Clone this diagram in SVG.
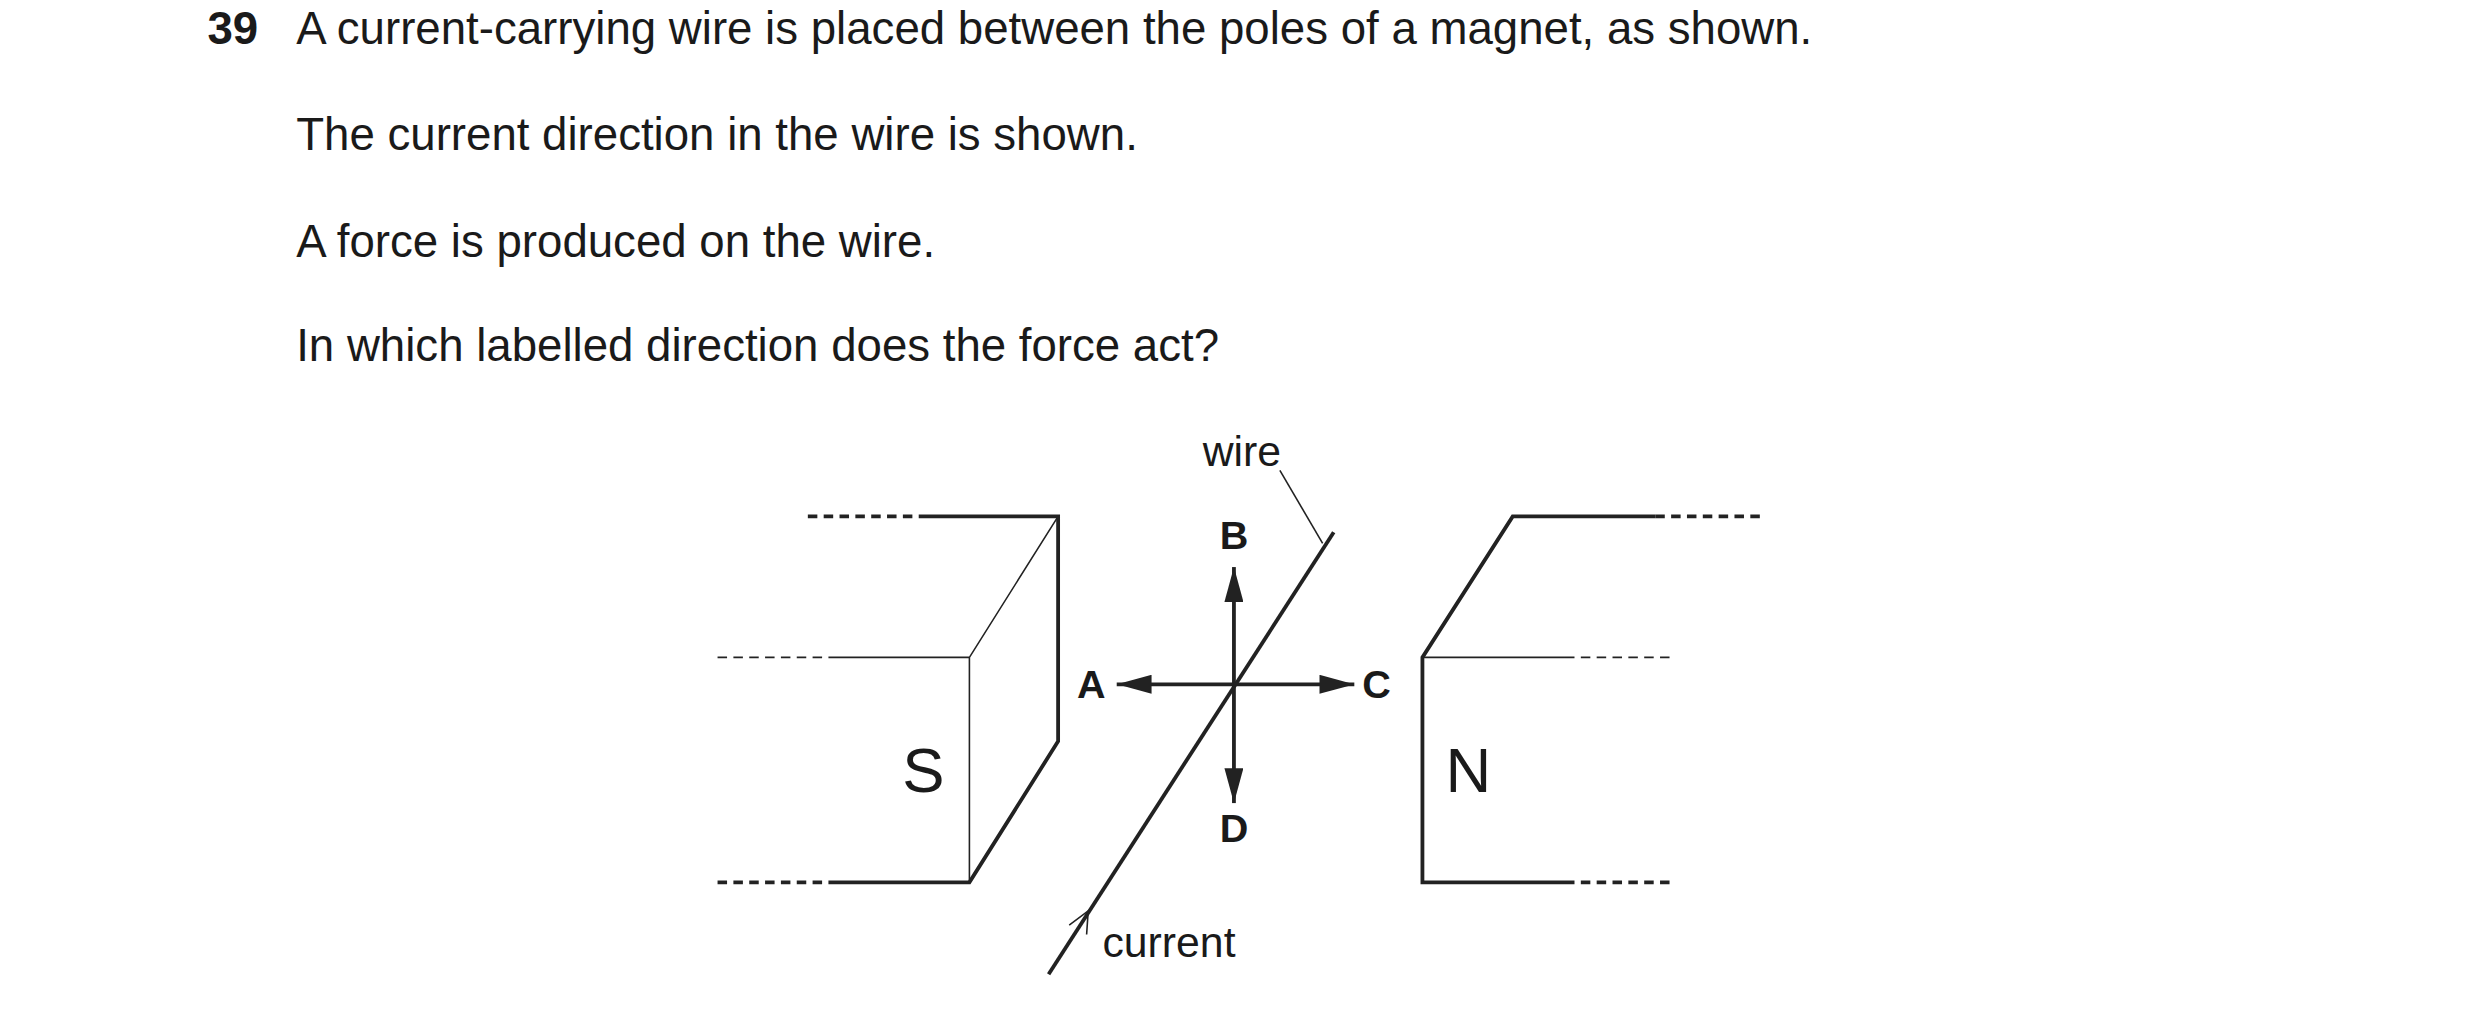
<svg xmlns="http://www.w3.org/2000/svg" width="2480" height="1014" viewBox="0 0 2480 1014">
<defs>
<style>
text{font-family:"Liberation Sans",Arial,sans-serif;fill:#1a1a1a}
.q{font-size:28.8px}
.lb{font-size:25px;font-weight:bold;text-anchor:middle;dominant-baseline:central}
.k{stroke:#222;stroke-width:2.4;fill:none}
.t{stroke:#222;stroke-width:1;fill:none}
.dk{stroke:#222;stroke-width:2.4;fill:none;stroke-dasharray:6,4}
.dt{stroke:#222;stroke-width:1;fill:none;stroke-dasharray:6,4}
</style>
<marker id="ah" viewBox="0 0 22 12" refX="22" refY="6" markerWidth="22" markerHeight="12" markerUnits="userSpaceOnUse" orient="auto"><path d="M0,0L22,6L0,12Z" fill="#222"/></marker>
</defs>
<rect width="2480" height="1014" fill="#fff"/>
<g transform="scale(1.584)">
<g id="question">
<text x="131" y="28" class="q" font-weight="bold">39</text>
<text x="187" y="28" class="q">A current-carrying wire is placed between the poles of a magnet, as shown.</text>
<text x="187" y="95" class="q">The current direction in the wire is shown.</text>
<text x="187" y="162" class="q">A force is produced on the wire.</text>
<text x="187" y="228" class="q">In which labelled direction does the force act?</text>
</g>
<g id="magnet-S">
<path class="dk" d="M510,326H580"/><path class="k" d="M580,326H668V468L612,557H523"/><path class="dk" d="M453,557H523"/>
<path class="t" d="M668,326L612,415V557M612,415H523"/><path class="dt" d="M453,415H523"/>
<text x="583" y="486" font-size="40" text-anchor="middle" dominant-baseline="central">S</text>
</g>
<g id="magnet-N">
<path class="dk" d="M1045,326H1115"/><path class="k" d="M1045,326H955L898,415V557H988"/><path class="dk" d="M988,557H1057"/>
<path class="t" d="M898,415H988"/><path class="dt" d="M988,415H1057"/>
<text x="927" y="486" font-size="40" text-anchor="middle" dominant-baseline="central">N</text>
</g>
<g id="wire">
<path class="k" stroke-width="2" d="M662,615L842,336"/>
<path class="t" stroke-width="1.5" d="M675,584L687,575L686,590"/>
<path class="t" d="M808,297L835,343"/>
<text x="784" y="294" font-size="27" text-anchor="middle">wire</text>
<text x="738" y="604" font-size="27" text-anchor="middle">current</text>
</g>
<g id="connectors">
<path class="k" stroke-width="2" marker-end="url(#ah)" d="M779,432V358"/>
<path class="k" stroke-width="2" marker-end="url(#ah)" d="M779,432V507"/>
<path class="k" stroke-width="2" marker-end="url(#ah)" d="M779,432H705"/>
<path class="k" stroke-width="2" marker-end="url(#ah)" d="M779,432H855"/>
</g>
<g id="labels">
<text x="779" y="338" class="lb">B</text>
<text x="779" y="523" class="lb">D</text>
<text x="689" y="432" class="lb">A</text>
<text x="869" y="432" class="lb">C</text>
</g>
</g>
</svg>
